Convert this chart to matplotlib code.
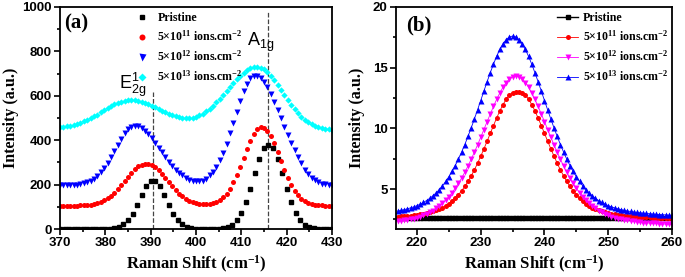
import numpy as np
import matplotlib
matplotlib.use('Agg')
import matplotlib.pyplot as plt
from matplotlib.ticker import MultipleLocator

plt.rcParams['mathtext.fontset'] = 'custom'
plt.rcParams['mathtext.rm'] = 'Liberation Serif:bold'
plt.rcParams['mathtext.it'] = 'Liberation Serif:italic:bold'
plt.rcParams['mathtext.bf'] = 'Liberation Serif:bold'
plt.rcParams['mathtext.sf'] = 'Liberation Sans'

# ---- panel (a): MoS2 E2g / A1g region ----
x_black_a = np.arange(370, 431, 1.0)
x_a = np.linspace(370, 430, 81)

pristine_a = [0, 0, 0, 0, 0, 0, 0, 0, 0, 0,
              0.5, 1.4, 4, 9, 21, 40, 70, 109, 155, 194,
              217, 217, 194, 155, 109, 70, 40, 21, 9, 4,
              1.4, 0.5, 0.3, 0.2, 0.5, 1.5, 4, 9, 20, 40,
              73, 121, 182, 252, 316, 363, 380, 363, 316, 252,
              182, 121, 73, 40, 20, 9, 4, 1.5, 0.5, 0.2,
              0]
dose11_a = [105.0, 105.0, 105.1, 105.3, 105.5, 105.8, 106.3, 107.2, 108.5, 110.5,
            113.3, 117.4, 122.9, 130.1, 139.4, 151.0, 164.6, 180.4, 197.9, 216.5,
            235.0, 253.0, 268.8, 281.7, 290.5, 294.7, 293.9, 288.1, 277.9, 263.9,
            247.2, 228.9, 210.2, 191.9, 175.0, 159.8, 146.9, 136.1, 127.6, 121.1,
            116.4, 113.3, 111.5, 111.3, 112.5, 115.7, 121.3, 129.9, 142.3, 159.3,
            181.8, 209.7, 242.9, 280.4, 320.3, 360.2, 397.0, 427.6, 449.1, 459.3,
            457.2, 443.0, 418.3, 385.4, 347.1, 306.9, 267.5, 231.4, 199.8, 173.6,
            153.0, 137.4, 126.2, 118.3, 113.1, 109.7, 107.7, 106.5, 105.8, 105.4,
            105.2]
dose12_a = [197.2, 197.3, 197.6, 198.1, 198.9, 200.3, 202.5, 205.7, 210.6, 217.5,
            227.0, 239.6, 255.5, 275.3, 298.3, 324.3, 351.9, 380.3, 407.1, 430.7,
            449.2, 461.0, 465.0, 462.5, 455.2, 443.5, 428.0, 409.5, 388.7, 366.9,
            344.9, 323.2, 302.8, 284.1, 267.4, 253.2, 241.3, 231.7, 223.0, 217.5,
            214.5, 214.5, 218.5, 226.5, 241.8, 258.6, 281.1, 309.7, 344.5, 385.2,
            430.8, 479.6, 529.2, 576.7, 619.7, 654.1, 678.0, 689.3, 688.2, 678.7,
            661.5, 637.8, 608.1, 574.1, 537.1, 498.7, 460.2, 422.8, 387.3, 354.9,
            324.0, 297.0, 267.0, 247.0, 232.0, 220.0, 211.0, 205.0, 201.0, 199.0,
            198.0]
dose13_a = [459.5, 461.1, 463.3, 466.0, 469.4, 473.5, 478.4, 484.3, 491.0, 498.5,
            506.8, 515.7, 525.1, 534.6, 544.1, 553.0, 561.3, 568.4, 574.2, 578.3,
            580.6, 580.9, 579.7, 577.1, 573.4, 568.4, 562.4, 555.8, 548.5, 541.0,
            533.4, 526.2, 519.3, 513.1, 507.9, 503.8, 501.0, 499.7, 499.9, 501.9,
            505.8, 511.7, 519.5, 529.3, 541.1, 554.6, 569.8, 586.3, 603.8, 621.9,
            640.1, 658.0, 674.9, 690.4, 704.0, 715.0, 723.3, 728.3, 730.0, 726.7,
            718.8, 706.3, 689.9, 670.4, 648.8, 625.9, 602.8, 580.1, 558.7, 539.0,
            521.4, 505.9, 492.9, 481.8, 473.0, 465.7, 460.1, 455.7, 452.4, 449.8,
            447.9]

# ---- panel (b): low-frequency region ----
x_b = np.linspace(217, 260, 87)
pristine_b = [2.6] * 87
dose11_b = [2.72, 2.74, 2.76, 2.78, 2.81, 2.84, 2.87, 2.91, 2.96, 3.01,
            3.08, 3.15, 3.24, 3.35, 3.47, 3.62, 3.80, 4.01, 4.25, 4.53,
            4.85, 5.21, 5.62, 6.08, 6.57, 7.12, 7.70, 8.31, 8.94, 9.58,
            10.23, 10.85, 11.44, 11.96, 12.40, 12.74, 12.95, 13.02, 13.02, 12.95,
            12.74, 12.40, 11.96, 11.44, 10.85, 10.23, 9.58, 8.94, 8.31, 7.70,
            7.12, 6.57, 6.08, 5.62, 5.21, 4.85, 4.53, 4.25, 4.01, 3.80,
            3.62, 3.47, 3.35, 3.24, 3.15, 3.08, 3.01, 2.96, 2.91, 2.87,
            2.84, 2.81, 2.78, 2.76, 2.74, 2.72, 2.70, 2.69, 2.67, 2.66,
            2.64, 2.63, 2.62, 2.61, 2.60, 2.59, 2.58]
dose12_b = [2.33, 2.37, 2.41, 2.46, 2.51, 2.57, 2.65, 2.73, 2.83, 2.94,
            3.07, 3.22, 3.40, 3.60, 3.82, 4.08, 4.38, 4.70, 5.06, 5.46,
            5.90, 6.38, 6.89, 7.45, 8.03, 8.63, 9.26, 9.90, 10.55, 11.18,
            11.80, 12.39, 12.92, 13.39, 13.77, 14.06, 14.24, 14.30, 14.24, 14.06,
            13.77, 13.39, 12.92, 12.39, 11.80, 11.18, 10.55, 9.90, 9.26, 8.63,
            8.03, 7.45, 6.89, 6.38, 5.90, 5.46, 5.06, 4.70, 4.38, 4.08,
            3.82, 3.60, 3.40, 3.22, 3.07, 2.94, 2.83, 2.73, 2.65, 2.57,
            2.51, 2.46, 2.41, 2.37, 2.33, 2.30, 2.27, 2.24, 2.22, 2.19,
            2.17, 2.16, 2.14, 2.12, 2.11, 2.09, 2.08]
dose13_b = [3.19, 3.24, 3.30, 3.37, 3.45, 3.53, 3.63, 3.75, 3.89, 4.05,
            4.23, 4.44, 4.68, 4.95, 5.26, 5.62, 6.01, 6.45, 6.93, 7.46,
            8.04, 8.66, 9.33, 10.03, 10.76, 11.52, 12.29, 13.07, 13.84, 14.58,
            15.29, 15.93, 16.50, 16.96, 17.31, 17.53, 17.60, 17.53, 17.31, 16.96,
            16.50, 15.93, 15.29, 14.58, 13.84, 13.07, 12.29, 11.52, 10.76, 10.03,
            9.33, 8.66, 8.04, 7.46, 6.93, 6.45, 6.01, 5.62, 5.26, 4.95,
            4.68, 4.44, 4.23, 4.05, 3.89, 3.75, 3.63, 3.53, 3.45, 3.37,
            3.30, 3.24, 3.19, 3.15, 3.11, 3.07, 3.04, 3.01, 2.99, 2.96,
            2.94, 2.92, 2.90, 2.88, 2.87, 2.85, 2.83]

labels = ['Pristine',
          '5×10$^{11}$ ions.cm$^{-2}$',
          '5×10$^{12}$ ions.cm$^{-2}$',
          '5×10$^{13}$ ions.cm$^{-2}$']
peak_pos = [390.5, 416]

serif = 'Liberation Serif'
sans = 'Liberation Sans'
leg_font = {'family': serif, 'weight': 'bold', 'size': 8.6}


def style_axes(ax):
    for s in ax.spines.values():
        s.set_linewidth(1.3)
    ax.tick_params(which='both', direction='out', top=False, right=False, width=1.2)
    ax.tick_params(which='major', length=4, labelsize=9.5, pad=2)
    ax.tick_params(which='minor', length=2.5)
    for lab in ax.get_xticklabels() + ax.get_yticklabels():
        lab.set_fontfamily(sans)
        lab.set_fontweight('bold')
    ax.set_ylabel('Intensity (a.u.)', fontfamily=serif, fontweight='bold', fontsize=11.5)
    ax.set_xlabel('Raman Shift (cm$^{-1}$)', fontfamily=serif, fontweight='bold',
                  fontsize=12, labelpad=3)


fig = plt.figure(figsize=(6.85, 2.77), dpi=100)
ax1 = fig.add_axes([0.0876, 0.173, 0.397, 0.802])
ax2 = fig.add_axes([0.578, 0.173, 0.403, 0.802])

# (a)
ax1.plot(x_black_a, pristine_a, 's', color='black', ms=3, label=labels[0])
ax1.plot(x_a, dose11_a, 'o', color='red', ms=3.6, mec='none', label=labels[1])
ax1.plot(x_a, dose12_a, 'v', color='blue', ms=4.2, mec='none', label=labels[2])
ax1.plot(x_a, dose13_a, 'D', color='cyan', ms=3.2, mec='none', label=labels[3])
ax1.plot([peak_pos[0]] * 2, [0, 615], '--', color='#444444', lw=0.9, zorder=0)
ax1.plot([peak_pos[1]] * 2, [0, 975], '--', color='#444444', lw=0.9, zorder=0)
ax1.set_xlim(370, 430)
ax1.set_ylim(0, 1000)
ax1.xaxis.set_major_locator(MultipleLocator(10))
ax1.xaxis.set_minor_locator(MultipleLocator(5))
ax1.yaxis.set_major_locator(MultipleLocator(200))
ax1.yaxis.set_minor_locator(MultipleLocator(100))
style_axes(ax1)
ax1.yaxis.set_label_coords(-0.15, 0.5)
ax1.text(371, 925, '(a)', fontfamily=serif, fontweight='bold', fontsize=15, va='center')
ax1.text(411.3, 840, r'$\mathsf{A_{1g}}$', fontsize=13, va='center')
ax1.text(383.0, 648, r'$\mathsf{E^{1}_{2g}}$', fontsize=13, va='center')
ax1.legend(loc='upper left', bbox_to_anchor=(0.27, 0.988), frameon=False, prop=leg_font,
           handlelength=1.0, handletextpad=0.8, labelspacing=0.45, borderpad=0.2,
           borderaxespad=0, markerscale=1.2)

# (b)
ax2.plot(x_b, pristine_b, 's-', color='black', ms=3, lw=1, label=labels[0])
ax2.plot(x_b, dose11_b, 'o-', color='red', ms=3.6, lw=0.6, mec='none', label=labels[1])
ax2.plot(x_b, dose12_b, 'v-', color='magenta', ms=4.2, lw=0.6, mec='none', label=labels[2])
ax2.plot(x_b, dose13_b, '^-', color='blue', ms=4.2, lw=0.6, mec='none', label=labels[3])
ax2.set_xlim(216.7, 260)
ax2.set_ylim(1.7, 20)
ax2.xaxis.set_major_locator(MultipleLocator(10))
ax2.xaxis.set_minor_locator(MultipleLocator(5))
ax2.yaxis.set_major_locator(MultipleLocator(5))
ax2.yaxis.set_minor_locator(MultipleLocator(2.5))
style_axes(ax2)
ax2.yaxis.set_label_coords(-0.112, 0.5)
ax2.text(218.3, 18.5, '(b)', fontfamily=serif, fontweight='bold', fontsize=15, va='center')
ax2.legend(loc='upper left', bbox_to_anchor=(0.575, 0.988), frameon=False, prop=leg_font,
           handlelength=1.75, handletextpad=0.4, labelspacing=0.45, borderpad=0.2,
           borderaxespad=0)

fig.savefig('out.png', dpi=100)
